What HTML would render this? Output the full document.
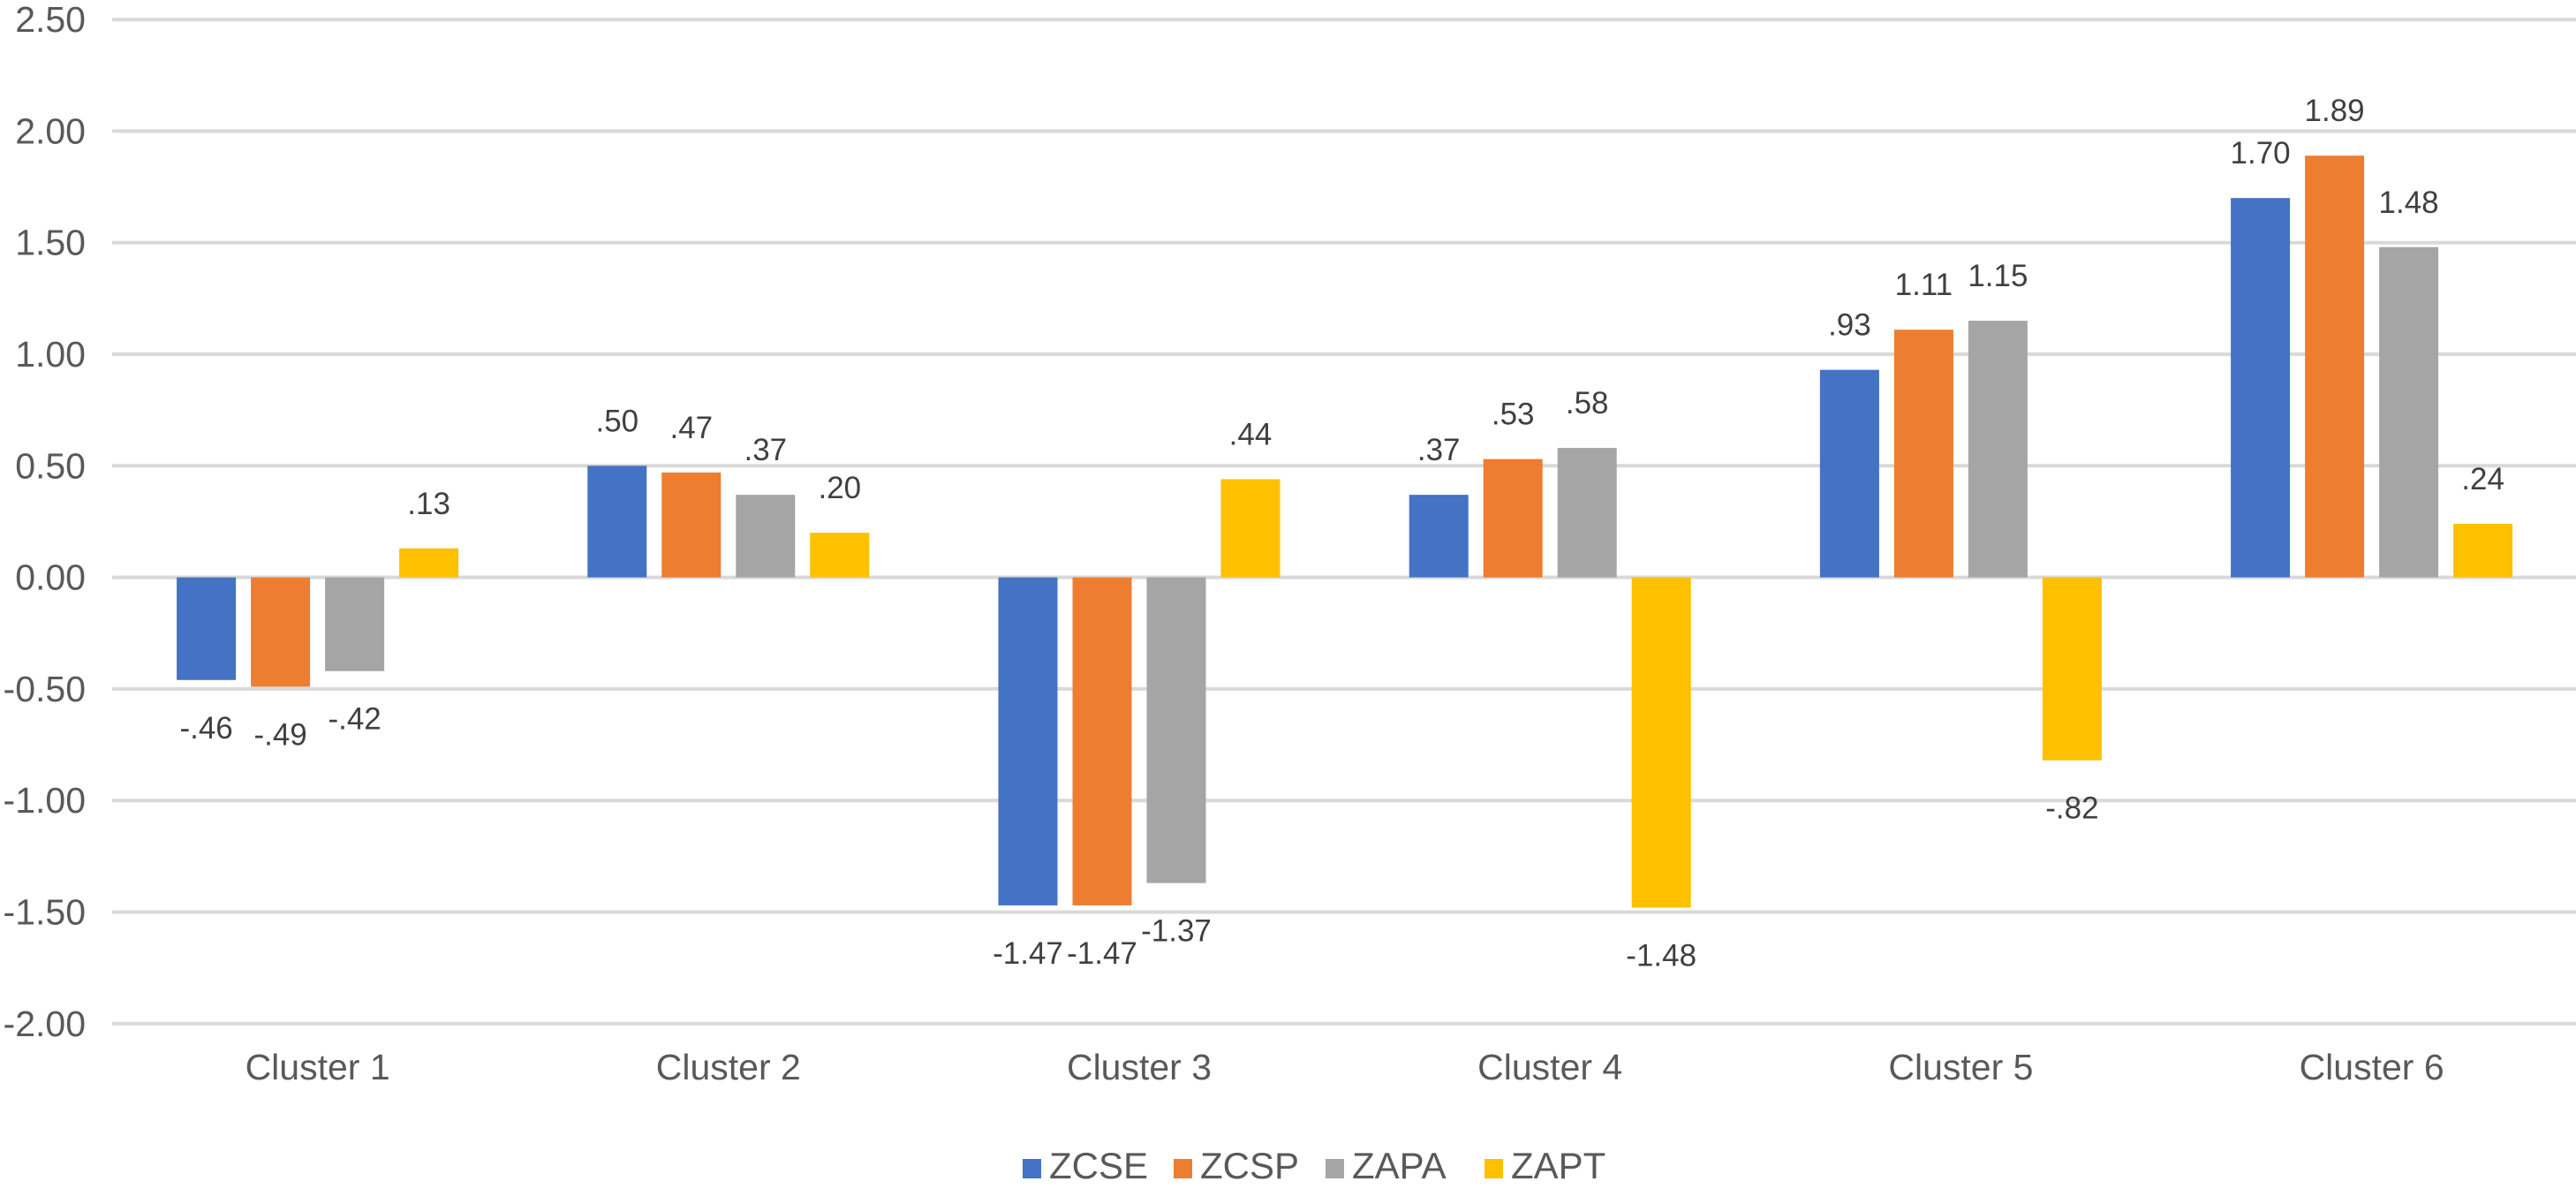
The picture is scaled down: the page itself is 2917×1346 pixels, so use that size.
<!DOCTYPE html>
<html><head><meta charset="utf-8"><style>
html,body{margin:0;padding:0;background:#fff;}
svg{display:block;font-family:"Liberation Sans",Arial,sans-serif;}
</style></head><body>
<svg id="chart" width="2917" height="1346" viewBox="0 0 2917 1346">
<g id="grid"></g>
<g id="yticks"></g>
<g id="bars"></g>
<g id="vlabels"></g>
<g id="xlabels"></g>
<g id="legend"></g>
</svg>
<script>
const categories = ["Cluster 1","Cluster 2","Cluster 3","Cluster 4","Cluster 5","Cluster 6"];
const seriesNames = ["ZCSE","ZCSP","ZAPA","ZAPT"];
const zcse = [-0.46, 0.50, -1.47, 0.37, 0.93, 1.70];
const zcsp = [-0.49, 0.47, -1.47, 0.53, 1.11, 1.89];
const zapa = [-0.42, 0.37, -1.37, 0.58, 1.15, 1.48];
const zapt = [0.13, 0.20, 0.44, -1.48, -0.82, 0.24];
const yTicks = [2.5, 2.0, 1.5, 1.0, 0.5, 0, -0.5, -1.0, -1.5, -2.0];

const colors = ["#4472C4","#ED7D31","#A5A5A5","#FFC000"];
const series = [zcse, zcsp, zapa, zapt];
const NS = "http://www.w3.org/2000/svg";
const plotL = 127, catW = 465.2, y0 = 653.6, unit = 252.6;
const barW = 67, barStep = 84;
function y(v){ return y0 - v*unit; }
function xCat(i){ return plotL + catW*i + catW/2; }
function mk(tag, attrs, parent){ const e=document.createElementNS(NS,tag); for(const k in attrs) e.setAttribute(k, attrs[k]); parent.appendChild(e); return e; }
function fmt(v){ let s=Math.abs(v).toFixed(2); if(s.startsWith("0")) s=s.slice(1); return (v<0?"-":"")+s; }

const grid=document.getElementById("grid"), yt=document.getElementById("yticks");
yTicks.forEach(t=>{
  const l=mk("line",{x1:plotL,x2:2917,y1:y(t),y2:y(t),stroke:"#D9D9D9","stroke-width":4},grid);
  
  
  const tx=mk("text",{x:97,y:y(t)+14,"text-anchor":"end","font-size":41,fill:"#595959"},yt);
  tx.textContent=t.toFixed(2);
  
  
});

const bars=document.getElementById("bars"), vl=document.getElementById("vlabels");
series.forEach((s,si)=>{
  s.forEach((v,ci)=>{
    const x = xCat(ci) - (4*barStep-(barStep-barW))/2 + si*barStep;
    const top = Math.min(y(v), y0), h = Math.abs(y(v)-y0);
    const r=mk("rect",{x:x,y:top,width:barW,height:h,fill:colors[si]},bars);
    
    
    const ly = v>=0 ? y(v)-51+12 : y(v)+54+12;
    const t=mk("text",{x:x+barW/2,y:ly,"text-anchor":"middle","font-size":35,fill:"#404040"},vl);
    t.textContent=fmt(v);
    
    
  });
});

const xl=document.getElementById("xlabels");
categories.forEach((c,i)=>{
  const t=mk("text",{x:xCat(i),y:1222,"text-anchor":"middle","font-size":41,fill:"#595959"},xl);
  t.textContent=c;
  
  
});

const lg=document.getElementById("legend");
const legX=[1158,1329,1501,1681];
seriesNames.forEach((n,i)=>{
  const g=mk("g",{},lg);
  
  
  mk("rect",{x:legX[i],y:1312,width:21,height:22,fill:colors[i]},g);
  const t=mk("text",{x:legX[i]+30,y:1334,"font-size":42,fill:"#595959"},g);
  t.textContent=n;
});
</script>
</body></html>
